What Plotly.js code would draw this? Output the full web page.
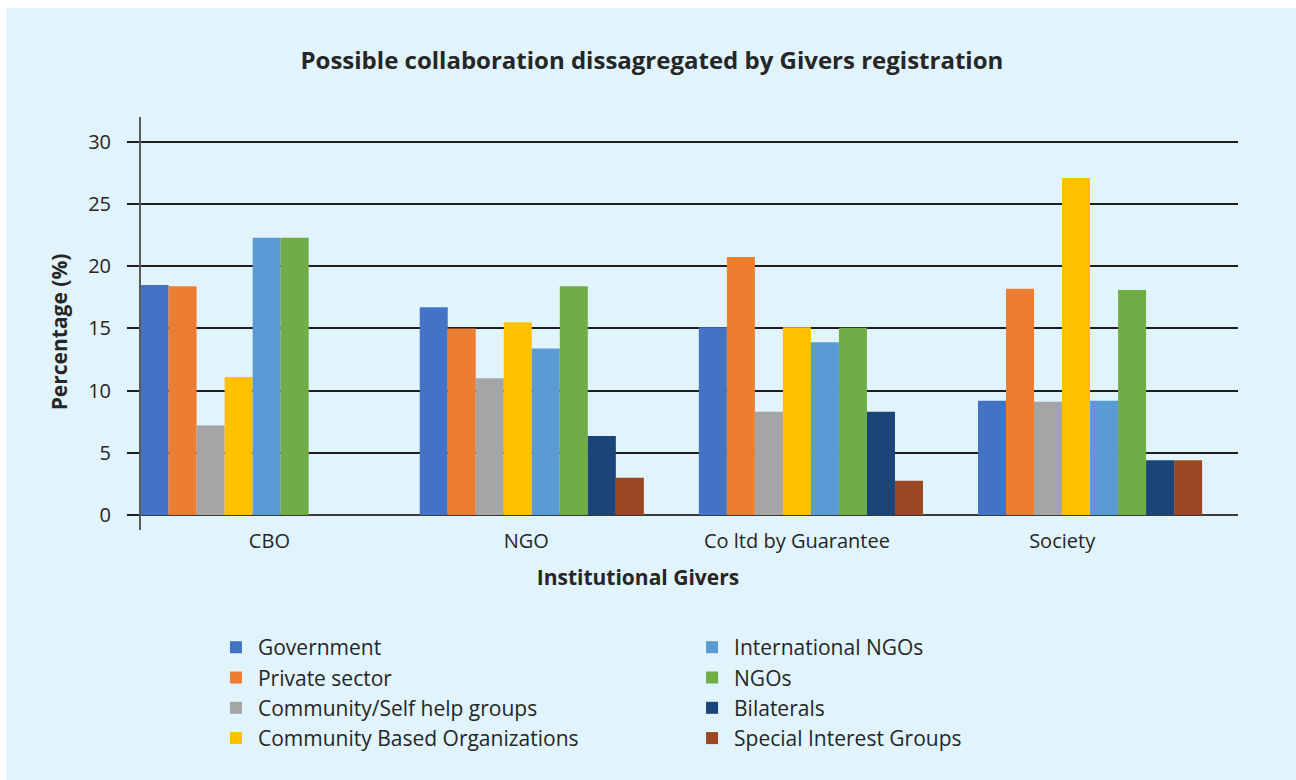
<!DOCTYPE html>
<html>
<head>
<meta charset="utf-8">
<script src="https://cdn.plot.ly/plotly-3.0.1.min.js"></script>
<style>html,body{margin:0;padding:0;background:#fff;}#chart{width:1296px;height:780px;}</style>
</head>
<body>
<div id="chart"></div>
<script>
const categories = ["CBO", "NGO", "Co ltd by Guarantee", "Society"];
const seriesNames = ["Government", "Private sector", "Community/Self help groups", "Community Based Organizations", "International NGOs", "NGOs", "Bilaterals", "Special Interest Groups"];
const government = [18.5, 16.7, 15.1, 9.2];
const privateSector = [18.4, 15.0, 20.75, 18.2];
const communitySelfHelp = [7.2, 11.0, 8.3, 9.1];
const communityBased = [11.1, 15.5, 15.1, 27.1];
const internationalNGOs = [22.3, 13.4, 13.9, 9.2];
const ngos = [22.3, 18.4, 15.05, 18.1];
const bilaterals = [0, 6.35, 8.3, 4.4];
const specialInterest = [0, 3.0, 2.75, 4.4];
const yTickVals = [0, 5, 10, 15, 20, 25, 30];

const seriesValues = [government, privateSector, communitySelfHelp, communityBased, internationalNGOs, ngos, bilaterals, specialInterest];
const colors = ["#4472c4", "#ed7d31", "#a5a5a5", "#ffc000", "#5b9bd5", "#70ad47", "#1b4479", "#9b4723"];

const FONT = "'Open Sans', 'Noto Sans', sans-serif";
const traces = seriesNames.map((name, i) => ({
  type: 'bar',
  name: name,
  x: categories,
  y: seriesValues[i],
  marker: {color: colors[i], line: {width: 0}},
  legend: i < 4 ? 'legend' : 'legend2',
  legendgroup: 'g' + i,
  hoverinfo: 'x+y+name'
}));
// helper axes carrying the category labels and the axis titles
traces.push({type: 'scatter', x: [], y: [], xaxis: 'x2', yaxis: 'y2', showlegend: false, hoverinfo: 'skip'});

const xr = [-0.40, 3.53];
const d2 = 0.906;
const xr2 = [xr[0], xr[0] + (xr[1] - xr[0]) * d2];
const layout = {
  width: 1296, height: 780,
  paper_bgcolor: '#ffffff',
  plot_bgcolor: 'rgba(0,0,0,0)',
  margin: {l: 141, r: 58, t: 117, b: 250},
  font: {family: FONT, color: '#262626'},
  barmode: 'group',
  bargap: 0.197,
  bargroupgap: 0,
  title: {
    text: '<b>Possible collaboration dissagregated by Givers registration</b>',
    font: {family: FONT, size: 24, color: '#262626'},
    x: 0.503, xanchor: 'center', y: 0.922, yanchor: 'middle'
  },
  xaxis: {
    type: 'category', range: xr, domain: [0, 1], showticklabels: false, showgrid: false,
    zeroline: false, showline: false, ticks: '', fixedrange: true
  },
  xaxis2: {
    anchor: 'y2', type: 'linear', range: xr2, domain: [0, d2], side: 'bottom',
    tickmode: 'array', tickvals: [0.06, 0.98, 1.95, 2.90], ticktext: categories,
    showgrid: false, zeroline: false, showline: false, ticks: '',
    ticklabelstandoff: -3,
    tickfont: {family: FONT, size: 20, color: '#262626'},
    title: {text: '<b>Institutional Givers</b>', font: {family: FONT, size: 21, color: '#262626'}, standoff: 17},
    automargin: false, fixedrange: true
  },
  yaxis: {
    range: [-1.2, 32], tickmode: 'array', tickvals: yTickVals,
    showgrid: true, gridcolor: '#1e1e1e', gridwidth: 1.5,
    zeroline: true, zerolinecolor: '#3a3a3a', zerolinewidth: 2,
    showline: true, linecolor: '#5a5a5a', linewidth: 2,
    ticks: 'outside', ticklen: 12, tickcolor: '#1e1e1e', tickwidth: 1.5,
    ticklabelstandoff: 12,
    tickfont: {family: FONT, size: 20, color: '#262626'},
    automargin: false, fixedrange: true
  },
  yaxis2: {
    anchor: 'x2', domain: [0, 0.959], range: [0, 1], side: 'left',
    showgrid: false, zeroline: false, showline: false, ticks: '', showticklabels: false,
    title: {text: '<b>Percentage (%)</b>', font: {family: FONT, size: 21, color: '#262626'}, standoff: 66},
    automargin: false, fixedrange: true
  },
  legend: {
    x: 0.0665, xanchor: 'left', y: -0.235, yanchor: 'top',
    orientation: 'v', bgcolor: 'rgba(0,0,0,0)', font: {family: FONT, size: 21, color: '#262626'},
    tracegroupgap: 0, traceorder: 'normal', itemwidth: 34
  },
  legend2: {
    x: 0.5005, xanchor: 'left', y: -0.235, yanchor: 'top',
    orientation: 'v', bgcolor: 'rgba(0,0,0,0)', font: {family: FONT, size: 21, color: '#262626'},
    tracegroupgap: 0, traceorder: 'normal', itemwidth: 34
  },
  shapes: [{
    type: 'rect', xref: 'paper', yref: 'paper', layer: 'below',
    x0: -0.123, x1: 1.053, y0: -0.606, y1: 1.264,
    fillcolor: '#e1f3fb', line: {width: 0}
  }],
  showlegend: true,
  hovermode: 'closest'
};

Plotly.newPlot('chart', traces, layout, {displayModeBar: false});
</script>
</body>
</html>
